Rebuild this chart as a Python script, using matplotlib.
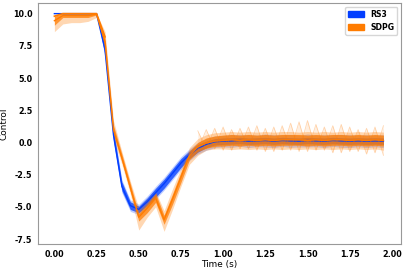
import matplotlib
matplotlib.use('Agg')
import matplotlib.pyplot as plt
import matplotlib.patches as mpatches
import numpy as np

# time grid (s)
t = np.round(np.arange(0, 2.0, 0.05), 2)

# RS3: mean control and half-widths of the dense core / faint band
rs3_mean = [10, 10, 10, 10, 10, 10, 7.2, 0.6, -3.4, -4.9, -5.2, -4.6, -3.9, -3.2, -2.4,
            -1.6, -0.95, -0.45, -0.15, 0.05, 0.1, 0.12, 0.15, 0.1, 0.12, 0.15, 0.1, 0.15,
            0.12, 0.1, 0.15, 0.12, 0.1, 0.15, 0.12, 0.1, 0.12, 0.1, 0.12, 0.1]
rs3_core = [0, 0, 0, 0, 0, 0, 0.4, 0.4, 0.35, 0.3, 0.25, 0.3, 0.35, 0.35, 0.35,
            0.35, 0.3, 0.3, 0.25, 0.25, 0.25, 0.25, 0.25, 0.25, 0.25, 0.25, 0.25, 0.25,
            0.25, 0.25, 0.25, 0.25, 0.25, 0.25, 0.25, 0.25, 0.25, 0.25, 0.25, 0.25]
rs3_wide = [0, 0, 0, 0, 0, 0, 0.6, 0.6, 0.5, 0.45, 0.4, 0.45, 0.5, 0.5, 0.5,
            0.5, 0.45, 0.45, 0.45, 0.45, 0.45, 0.5, 0.45, 0.5, 0.45, 0.5, 0.5, 0.45,
            0.5, 0.45, 0.5, 0.45, 0.5, 0.45, 0.5, 0.5, 0.45, 0.5, 0.45, 0.5]

# SDPG: mean control, dense core half-width, faint envelope
sdpg_mean = [9.45, 9.85, 9.85, 9.85, 9.85, 9.95, 7.8, 1.0, -1.2, -3.5, -5.8, -5.1, -4.3, -6.0, -4.4,
             -2.7, -1.0, -0.35, -0.05, 0.1, 0.15, 0.2, 0.15, 0.2, 0.15, 0.2, 0.15, 0.2,
             0.2, 0.2, 0.15, 0.2, 0.15, 0.2, 0.2, 0.15, 0.2, 0.15, 0.2, 0.15]
sdpg_core = [0.35, 0.15, 0.15, 0.15, 0.15, 0.05, 0.4, 0.35, 0.3, 0.3, 0.3, 0.35, 0.35, 0.35, 0.4,
             0.4, 0.35, 0.35, 0.4, 0.4, 0.42, 0.42, 0.42, 0.42, 0.42, 0.42, 0.42, 0.42,
             0.42, 0.42, 0.42, 0.42, 0.42, 0.42, 0.42, 0.42, 0.42, 0.42, 0.42, 0.42]
sdpg_hi = [9.9, 10, 10, 10, 10, 10, 8.6, 1.7, -0.7, -3.0, -5.1, -4.4, -3.8, -5.3, -3.6,
           -2.0, -0.4, 0.3, 0.6, 0.75, 0.8, 0.85, 0.8, 0.85, 0.8, 0.85, 0.8, 0.85,
           0.85, 0.8, 0.85, 0.8, 0.85, 0.8, 0.85, 0.8, 0.85, 0.8, 0.85, 0.8]
sdpg_lo = [8.6, 9.2, 9.3, 9.3, 9.4, 9.7, 7.1, 0.3, -1.7, -4.0, -6.8, -5.8, -5.0, -6.9, -5.2,
           -3.4, -1.7, -1.0, -0.6, -0.5, -0.5, -0.55, -0.5, -0.55, -0.5, -0.55, -0.5, -0.55,
           -0.5, -0.55, -0.5, -0.55, -0.5, -0.55, -0.5, -0.55, -0.5, -0.55, -0.5, -0.6]
# two out-of-phase outlier runs in the tail (from t = 0.85 s)
sdpg_tail_a = [0.9, -0.5, 1.1, -0.6, 1.0, -0.5, 1.2, -0.6, 1.1, -0.7, 1.3, -0.6, 1.6,
               -0.7, 1.4, -0.6, 1.3, -0.8, 1.2, -0.7, 1.1, -0.8, 1.3]
sdpg_tail_b = [-0.6, 1.0, -0.5, 1.2, -0.6, 1.1, -0.5, 1.3, -0.7, 1.2, -0.6, 1.5, -0.7,
               1.7, -0.6, 1.2, -0.8, 1.4, -0.7, 1.0, -0.9, 1.2, -1.0]

blue = '#023eff'
orange = '#ff7c00'

rs3_mean = np.array(rs3_mean)
sdpg_mean = np.array(sdpg_mean)

fig = plt.figure(figsize=(4.07, 2.68), dpi=100)
ax = fig.add_axes([0.093, 0.0896, 0.893, 0.9004])

# RS3
ax.fill_between(t, rs3_mean - rs3_wide, rs3_mean + rs3_wide, color=blue, alpha=0.25, lw=0)
ax.fill_between(t, rs3_mean - rs3_core, rs3_mean + rs3_core, color=blue, alpha=0.75, lw=0)
ax.plot(t, rs3_mean, color=blue, lw=1.0)

# SDPG
t_tail = t[17:]
sdpg_top = np.minimum(sdpg_mean + np.array(sdpg_core), 10)
ax.fill_between(t_tail, sdpg_tail_a, sdpg_tail_b, color=orange, alpha=0.12, lw=0)
ax.plot(t_tail, sdpg_tail_a, color=orange, alpha=0.3, lw=0.6)
ax.plot(t_tail, sdpg_tail_b, color=orange, alpha=0.3, lw=0.6)
ax.fill_between(t, sdpg_lo, sdpg_hi, color=orange, alpha=0.3, lw=0)
ax.fill_between(t, sdpg_top, sdpg_mean - sdpg_core, color=orange, alpha=0.72, lw=0)
ax.plot(t[:7], sdpg_top[:7], color=orange, lw=1.2)
ax.plot(t, sdpg_mean, color=orange, lw=1.0)

ax.set_xlim(-0.098, 2.056)
ax.set_ylim(-7.88, 10.85)
ax.set_xticks([0, 0.25, 0.5, 0.75, 1.0, 1.25, 1.5, 1.75, 2.0])
ax.set_yticks([-7.5, -5.0, -2.5, 0.0, 2.5, 5.0, 7.5, 10.0])
ax.xaxis.set_major_formatter(matplotlib.ticker.FormatStrFormatter('%.2f'))
ax.yaxis.set_major_formatter(matplotlib.ticker.FormatStrFormatter('%.1f'))
for lab in ax.get_xticklabels() + ax.get_yticklabels():
    lab.set_fontweight('bold')
ax.tick_params(labelsize=5.8, length=0, pad=4)
for s in ax.spines.values():
    s.set_color('#999999')
    s.set_linewidth(0.8)

ax.set_xlabel('Time (s)', fontsize=6.4, labelpad=1)
ax.set_ylabel('Control', fontsize=6.4, labelpad=3)

handles = [mpatches.Patch(color=blue, label='RS3'),
           mpatches.Patch(color=orange, label='SDPG')]
ax.legend(handles=handles, loc='upper right', prop={'size': 5.6, 'weight': 'bold'})

fig.savefig('out.png', dpi=100)
